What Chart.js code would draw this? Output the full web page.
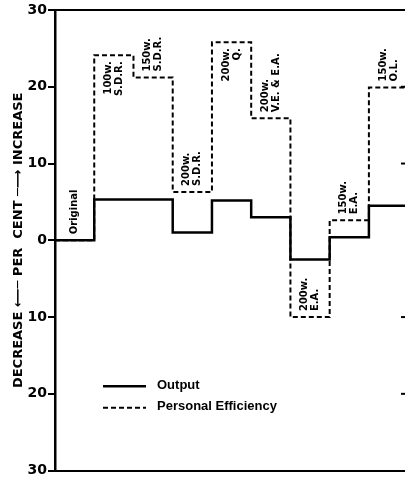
<!DOCTYPE html>
<html>
<head>
<meta charset="utf-8">
<script src="https://cdn.jsdelivr.net/npm/chart.js@4.4.1/dist/chart.umd.min.js"></script>
<style>
  html, body { margin: 0; padding: 0; background: #fff; }
</style>
</head>
<body>
<canvas id="chart" width="405" height="480"></canvas>
<script>
// one step per test condition
const categories = ['Original', '100w.\nS.D.R.', '150w.\nS.D.R.', '200w.\nS.D.R.', '200w.\nQ.',
                    '200w.\nV.E. & E.A.', '200w.\nE.A.', '150w.\nE.A.', '150w.\nO.L.'];
const outputValues = [0, 5.3, 5.3, 1.0, 5.2, 3.0, -2.5, 0.4, 4.5];
const efficiencyValues = [0, 24.1, 21.2, 6.3, 25.8, 15.9, -10.0, 2.6, 19.9];
const yTickValues = [30, 20, 10, 0, -10, -20, -30];

const xMax = 8.92;  // the original is cut off on the right

// stepped line: one point at the start of each step plus a closing point
function steps(values) {
    const pts = values.map((v, i) => ({ x: i, y: v }));
    pts.push({ x: values.length, y: values[values.length - 1] });
    return pts;
}

const boldFont = 'DejaVu Sans';

// rotated condition labels, hung under a peak or sat on top of the step
const stepLabels = {
    id: 'stepLabels',
    afterDatasetsDraw(chart) {
        const { ctx, scales: { x, y } } = chart;
        ctx.save();
        ctx.fillStyle = '#000';
        ctx.font = 'bold 10px "' + boldFont + '"';
        ctx.textBaseline = 'middle';
        categories.forEach((cat, i) => {
            const v = efficiencyValues[i];
            const prev = efficiencyValues[i - 1], next = efficiencyValues[i + 1];
            const hang = prev !== undefined && next !== undefined && v > prev && v > next;
            const lines = cat.split('\n');
            const cx = x.getPixelForValue(i + 0.5);
            const cy = y.getPixelForValue(v);
            ctx.save();
            ctx.translate(cx, cy);
            ctx.rotate(-Math.PI / 2);
            ctx.textAlign = hang ? 'right' : 'left';
            const off = hang ? -6 : 6;
            lines.forEach((ln, k) => {
                const dy = (k - (lines.length - 1) / 2) * 11;
                ctx.fillText(ln, off, dy);
            });
            ctx.restore();
        });
        ctx.restore();
    }
};

// little inward ticks on the right edge, and the key in the lower left
const extras = {
    id: 'extras',
    afterDraw(chart) {
        const { ctx, chartArea: a, scales: { y } } = chart;
        ctx.save();
        ctx.strokeStyle = '#000';
        ctx.lineWidth = 2;
        yTickValues.filter(v => Math.abs(v) !== 30 && v !== 0).forEach(v => {
            const py = y.getPixelForValue(v);
            ctx.beginPath();
            ctx.moveTo(a.right - 4, py);
            ctx.lineTo(a.right, py);
            ctx.stroke();
        });

        const lx = a.left + 48;
        const rows = [y.getPixelForValue(-19.0), y.getPixelForValue(-21.8)];
        ctx.font = 'bold 13px "Liberation Sans"';
        ctx.fillStyle = '#000';
        ctx.textBaseline = 'middle';
        chart.data.datasets.forEach((ds, i) => {
            ctx.lineWidth = ds.borderWidth;
            ctx.setLineDash(ds.borderDash || []);
            ctx.beginPath();
            ctx.moveTo(lx, rows[i]);
            ctx.lineTo(lx + 43, rows[i]);
            ctx.stroke();
            ctx.setLineDash([]);
            ctx.fillText(ds.label, lx + 54, rows[i] - 1);
        });
        ctx.restore();
    }
};

const frameAxis = pos => ({
    type: 'linear',
    position: pos,
    min: 0,
    max: xMax,
    ticks: { display: false },
    grid: { display: false, drawTicks: false },
    border: { display: true, color: '#000', width: 2 },
    afterFit: s => { s.height = 0; }
});

new Chart(document.getElementById('chart'), {
    type: 'line',
    data: {
        datasets: [{
            label: 'Output',
            data: steps(outputValues),
            stepped: 'before',
            borderColor: '#000',
            borderWidth: 2.5,
            borderDash: [],
            pointRadius: 0,
            fill: false
        }, {
            label: 'Personal Efficiency',
            data: steps(efficiencyValues),
            stepped: 'before',
            borderColor: '#000',
            borderWidth: 2,
            borderDash: [5, 3],
            pointRadius: 0,
            fill: false
        }]
    },
    options: {
        responsive: false,
        animation: false,
        layout: { padding: { top: 10, right: 0, bottom: 8, left: 0 } },
        plugins: {
            legend: { display: false },
            tooltip: { enabled: false }
        },
        scales: {
            x: frameAxis('bottom'),
            xTop: frameAxis('top'),
            y: {
                min: yTickValues[yTickValues.length - 1],
                max: yTickValues[0],
                afterBuildTicks: s => { s.ticks = yTickValues.map(v => ({ value: v })); },
                ticks: {
                    callback: v => Math.abs(v),
                    color: '#000',
                    padding: 1,
                    font: { family: boldFont, weight: 'bold', size: 14 }
                },
                grid: { drawOnChartArea: false, tickLength: 7, color: '#000', lineWidth: 2 },
                border: { color: '#000', width: 2.5 },
                title: {
                    display: true,
                    text: 'DECREASE \u27F5\u2500 PER  CENT \u2500\u27F6 INCREASE',
                    color: '#000',
                    font: { family: boldFont, weight: 'bold', size: 13 },
                    padding: { top: 11, bottom: 0 }
                },
                afterFit: s => { s.width = 55; }
            }
        }
    },
    plugins: [stepLabels, extras]
});
</script>
</body>
</html>
